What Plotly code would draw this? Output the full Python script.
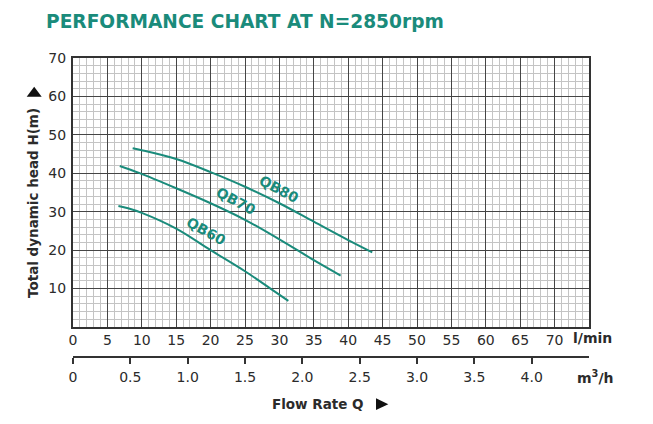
import plotly.graph_objects as go

# ---------------- data ----------------
qb80_q = [8.67, 10.0, 15.0, 20.0, 25.0, 30.0, 35.0, 40.0, 43.5]
qb80_h = [46.5, 46.0, 43.7, 40.3, 36.5, 32.2, 27.4, 22.6, 19.4]
qb70_q = [6.8, 9.6, 15.0, 20.0, 25.0, 30.0, 35.0, 38.9]
qb70_h = [41.9, 40.1, 36.1, 32.2, 27.9, 22.8, 17.4, 13.4]
qb60_q = [6.6, 8.0, 10.0, 15.0, 20.0, 25.0, 28.7, 31.3]
qb60_h = [31.5, 30.9, 29.7, 25.6, 20.0, 14.5, 10.0, 6.8]
series_names = ["QB80", "QB70", "QB60"]
x_ticks_lmin = [0, 5, 10, 15, 20, 25, 30, 35, 40, 45, 50, 55, 60, 65, 70]
y_ticks = [10, 20, 30, 40, 50, 60, 70]
x_ticks_m3h = [0, 0.5, 1.0, 1.5, 2.0, 2.5, 3.0, 3.5, 4.0]
x_tick_m3h_text = ["0", "0.5", "1.0", "1.5", "2.0", "2.5", "3.0", "3.5", "4.0"]

OFF = 8  # page body margin
W, H = 653 - OFF, 424 - OFF
ML, MR, MT, MB = 73 - OFF, 64, 58 - OFF, 30
PW = W - ML - MR
PH = H - MT - MB


def px_x(x):
    """window pixel x -> paper fraction"""
    return (x - OFF - ML) / PW


def px_y(y):
    """window pixel y -> paper fraction"""
    return (H - MB - (y - OFF)) / PH


TEAL = "#1a8b7b"
FONT = "DejaVu Sans, Arial, sans-serif"
TXT = "#2b2b2b"

fig = go.Figure()
for name, q, h in [("QB80", qb80_q, qb80_h), ("QB70", qb70_q, qb70_h), ("QB60", qb60_q, qb60_h)]:
    fig.add_trace(go.Scatter(x=q, y=h, mode="lines", name=name,
                             line=dict(color=TEAL, width=2, shape="spline", smoothing=1.0),
                             showlegend=False, hoverinfo="skip"))
# dummy trace for secondary axis
fig.add_trace(go.Scatter(x=[None], y=[None], xaxis="x2", yaxis="y", showlegend=False, hoverinfo="skip"))

fig.update_layout(
    width=W, height=H,
    margin=dict(l=ML, r=MR, t=MT, b=MB),
    paper_bgcolor="white", plot_bgcolor="white",
    font=dict(family=FONT, color=TXT, size=14),
    xaxis=dict(range=[0, 75], tickvals=x_ticks_lmin, ticktext=[str(v) for v in x_ticks_lmin],
               showgrid=True, gridcolor="#454545", gridwidth=1.3,
               minor=dict(dtick=1, tick0=0, showgrid=True, gridcolor="#c4c4c4", gridwidth=1),
               showline=True, mirror=True, linecolor="#333333", linewidth=2,
               ticks="", ticklen=0, zeroline=False, tickfont=dict(size=14, color=TXT),
               ticklabelstandoff=-1),
    yaxis=dict(range=[0, 70], domain=[px_y(327), 1], tickvals=y_ticks,
               ticktext=[str(v) for v in y_ticks],
               showgrid=True, gridcolor="#454545", gridwidth=1.3,
               minor=dict(dtick=2, tick0=0, showgrid=True, gridcolor="#c4c4c4", gridwidth=1),
               showline=True, mirror=True, linecolor="#333333", linewidth=2,
               ticks="", ticklen=0, zeroline=False, tickfont=dict(size=14, color=TXT),
               ticklabelstandoff=2),
    xaxis2=dict(range=[0, 4.5], overlaying="x", anchor="free", position=px_y(356.7), side="bottom",
                tickvals=x_ticks_m3h, ticktext=x_tick_m3h_text,
                showline=True, linecolor="#333333", linewidth=2,
                ticks="outside", ticklen=6, tickwidth=2, tickcolor="#333333",
                showgrid=False, zeroline=False, tickfont=dict(size=14, color=TXT),
                ticklabelstandoff=1),
)

annotations = [
    dict(text="<b>PERFORMANCE CHART AT N=2850rpm</b>", x=px_x(245), y=px_y(21.7),
         font=dict(size=18.6, color=TEAL)),
    dict(text="<b>Total dynamic head H(m)</b>", x=px_x(33), y=px_y(203), textangle=-90,
         font=dict(size=13.5, color=TXT)),
    dict(text="<b>l/min</b>", x=px_x(592.5), y=px_y(338), font=dict(size=14, color=TXT)),
    dict(text="<b>m<sup>3</sup>/h</b>", x=px_x(595), y=px_y(377), font=dict(size=14, color=TXT)),
    dict(text="<b>Flow Rate Q</b>", x=px_x(318), y=px_y(404), font=dict(size=13.5, color=TXT)),
]
for a in annotations:
    a.update(xref="paper", yref="paper", showarrow=False, xanchor="center", yanchor="middle")
    fig.add_annotation(**a)


# arrow triangles
def tri(pts):
    p = [(px_x(x), px_y(y)) for x, y in pts]
    return "M {} {} L {} {} L {} {} Z".format(p[0][0], p[0][1], p[1][0], p[1][1], p[2][0], p[2][1])


fig.add_shape(type="path", xref="paper", yref="paper",
              path=tri([(26.7, 96.7), (41.7, 96.7), (34.2, 86.7)]),
              fillcolor="#111111", line=dict(width=0))
fig.add_shape(type="path", xref="paper", yref="paper",
              path=tri([(376, 398.3), (376, 410), (388.3, 404.2)]),
              fillcolor="#111111", line=dict(width=0))

label_pos = {"QB80": (29.9, 36.0, 28), "QB70": (23.7, 32.9, 28), "QB60": (19.3, 25.0, 29)}
for name in series_names:
    x, y, ang = label_pos[name]
    fig.add_annotation(text="<b>" + name + "</b>", x=x, y=y, xref="x", yref="y", showarrow=False,
                       textangle=ang, font=dict(size=14, color=TEAL))

fig.write_html("out.html")
